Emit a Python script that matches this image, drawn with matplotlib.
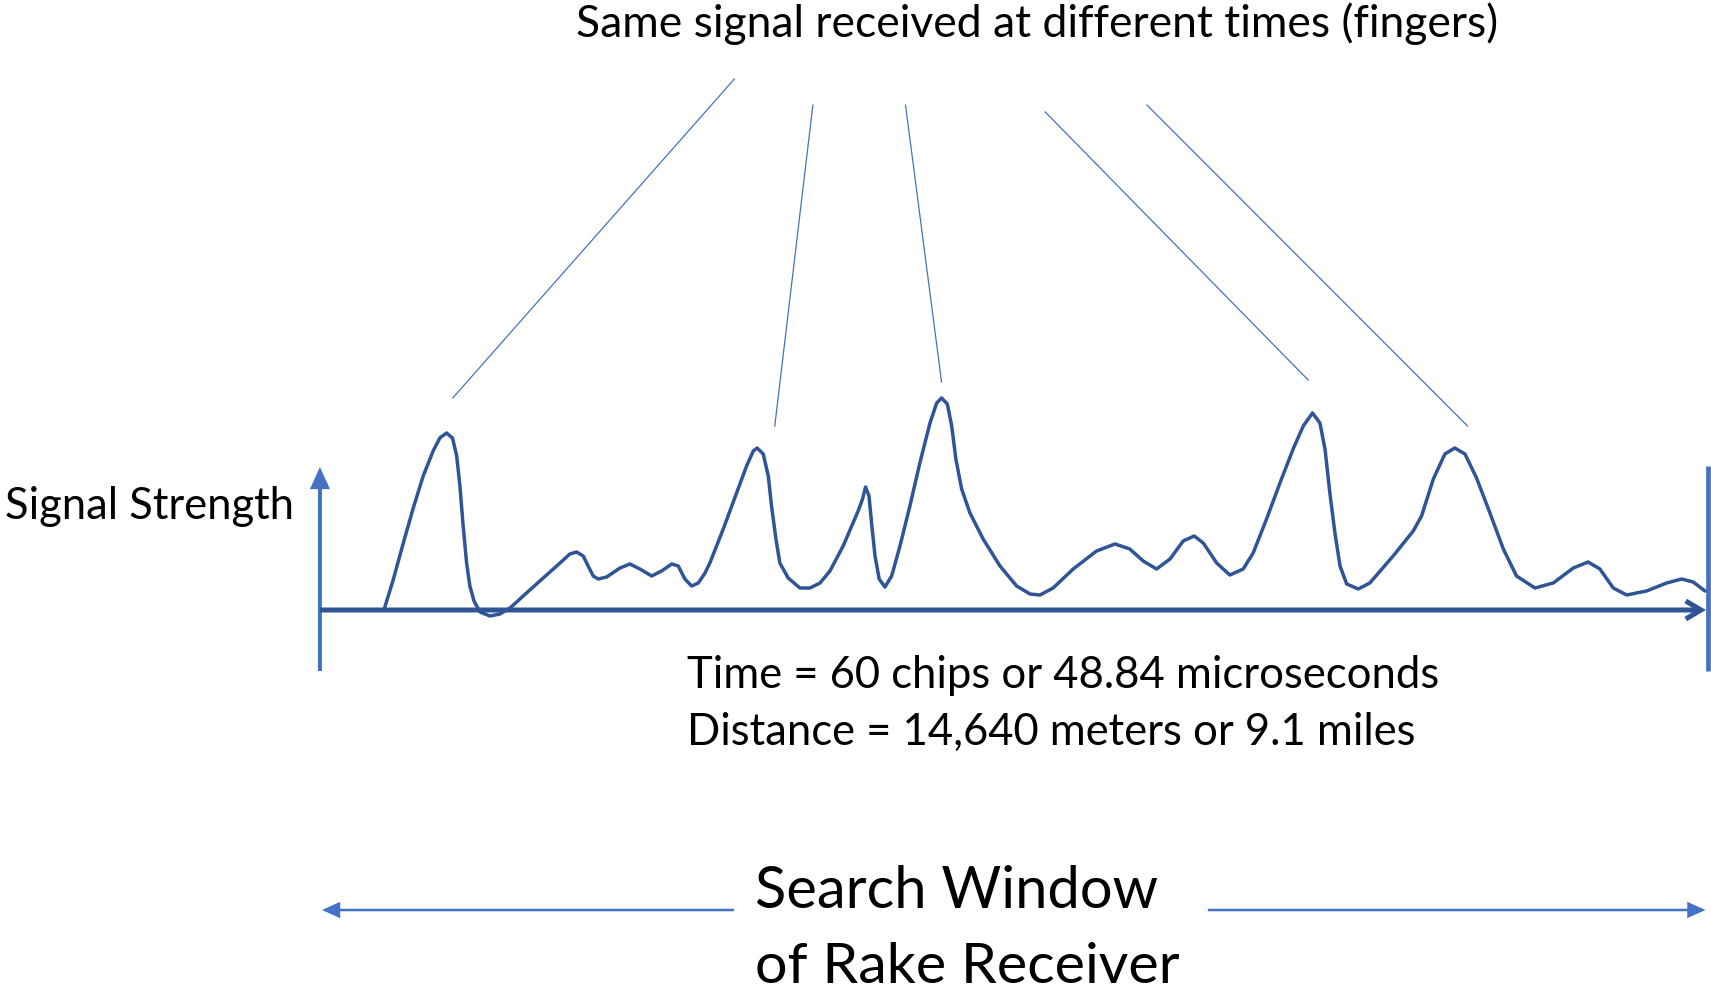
import matplotlib
matplotlib.use('Agg')
import matplotlib.pyplot as plt
from matplotlib.patches import FancyArrowPatch

# signal trace: time in chips, strength in arbitrary units
chips = [2.77, 3.17, 3.61, 4.04, 4.47, 4.90, 5.19, 5.48, 5.74, 5.92,
         6.06, 6.20, 6.35, 6.49, 6.67, 6.93, 7.36, 7.79, 8.23, 8.80,
         9.52, 10.25, 10.82, 11.11, 11.40, 11.61, 11.83, 12.05, 12.41, 12.99,
         13.42, 13.85, 14.36, 14.79, 15.23, 15.51, 15.80, 16.09, 16.38, 16.67,
         16.88, 17.46, 18.04, 18.47, 18.76, 18.93, 19.19, 19.41, 19.55, 19.74,
         19.91, 20.27, 20.78, 21.21, 21.65, 22.08, 22.65, 23.30, 23.49, 23.62,
         23.77, 23.88, 24.03, 24.21, 24.46, 24.75, 25.11, 25.54, 25.97, 26.41,
         26.70, 26.91, 27.16, 27.35, 27.53, 27.78, 28.14, 28.71, 29.44, 30.16,
         30.74, 31.17, 31.74, 32.61, 33.62, 34.42, 35.06, 35.64, 36.22, 36.80,
         37.37, 37.85, 38.24, 38.82, 39.39, 39.97, 40.40, 40.98, 41.56, 42.13,
         42.57, 42.97, 43.29, 43.51, 43.72, 43.94, 44.16, 44.45, 44.95, 45.45,
         46.46, 47.33, 47.69, 48.20, 48.70, 49.13, 49.57, 50.07, 50.65, 51.23,
         51.80, 52.60, 53.39, 54.26, 54.90, 55.41, 55.99, 56.57, 57.43, 58.30,
         58.95, 59.45, 59.96]
strength = [0.00, 0.30, 0.67, 1.02, 1.34, 1.59, 1.72, 1.77, 1.72, 1.54,
            1.24, 0.84, 0.47, 0.24, 0.09, -0.02, -0.06, -0.04, 0.02, 0.14,
            0.29, 0.44, 0.56, 0.58, 0.54, 0.44, 0.34, 0.31, 0.33, 0.42,
            0.46, 0.41, 0.34, 0.39, 0.46, 0.44, 0.31, 0.24, 0.27, 0.37,
            0.47, 0.81, 1.17, 1.44, 1.59, 1.62, 1.56, 1.34, 1.04, 0.71,
            0.47, 0.32, 0.22, 0.22, 0.27, 0.39, 0.64, 0.99, 1.11, 1.23,
            1.14, 0.87, 0.54, 0.31, 0.23, 0.34, 0.64, 1.04, 1.47, 1.87,
            2.07, 2.12, 2.06, 1.84, 1.51, 1.21, 0.97, 0.71, 0.44, 0.24,
            0.16, 0.15, 0.22, 0.41, 0.59, 0.66, 0.61, 0.49, 0.41, 0.51,
            0.69, 0.74, 0.67, 0.47, 0.35, 0.41, 0.57, 0.91, 1.27, 1.61,
            1.84, 1.97, 1.87, 1.61, 1.17, 0.77, 0.44, 0.26, 0.21, 0.27,
            0.54, 0.79, 0.94, 1.31, 1.56, 1.62, 1.56, 1.32, 0.97, 0.61,
            0.34, 0.22, 0.27, 0.42, 0.48, 0.41, 0.22, 0.15, 0.19, 0.27,
            0.31, 0.28, 0.19]

# "finger" pointer lines: (top x, top y, bottom x, bottom y)
fingers = [(17.94, 5.31, 5.75, 2.12),
           (21.34, 5.05, 19.69, 1.84),
           (25.35, 5.05, 26.91, 2.28),
           (31.40, 4.98, 42.78, 2.30),
           (35.80, 5.05, 49.68, 1.84)]

window_chips = 60

title = 'Same signal received at different times (fingers)'
ylabel = 'Signal Strength'
time_label = 'Time = 60 chips or 48.84 microseconds'
dist_label = 'Distance = 14,640 meters or 9.1 miles'
window_label = ['Search Window', 'of Rake Receiver']

DARK = '#2F5597'
BLUE = '#4472C4'
plt.rcParams['font.family'] = ['Lato', 'DejaVu Sans']

fig = plt.figure(figsize=(17.11, 9.91), dpi=100)
ax = fig.add_axes([0, 0, 1, 1])
ax.set_xlim(-13.85, 60.22)
ax.set_ylim(-3.81, 6.10)
ax.set_axis_off()


def arrow(x0, y0, x1, y1, style, color, lw):
    p = FancyArrowPatch((x0, y0), (x1, y1), arrowstyle=style,
                        mutation_scale=1, color=color, lw=lw,
                        shrinkA=0, shrinkB=0, clip_on=False,
                        joinstyle='miter', capstyle='butt')
    ax.add_patch(p)


# axes of the diagram
arrow(0, -0.61, 0, 1.43, '-|>,head_length=11,head_width=5', BLUE, 2.9)
arrow(0, 0, window_chips, 0, '->,head_length=11,head_width=6.5', DARK, 3.6)
ax.plot([60.07, 60.07], [-0.61, 1.44], color=BLUE, lw=3.4,
        solid_capstyle='butt')

# signal
ax.plot(chips, strength, color=DARK, lw=2.5, solid_joinstyle='round',
        solid_capstyle='round')

# finger lines
for x0, y0, x1, y1 in fingers:
    ax.plot([x0, x1], [y0, y1], color=BLUE, lw=0.9)

# search window arrows
arrow(17.92, -3.0, 0.09, -3.0, '-|>,head_length=10,head_width=4.5', BLUE, 1.8)
arrow(38.44, -3.0, 59.98, -3.0, '-|>,head_length=10,head_width=4.5', BLUE, 1.8)

# texts, sized so that their width matches the reference
renderer = fig.canvas.get_renderer()


def fit_text(x, y, s, width_px, ha='left'):
    t = ax.text(x, y, s, ha=ha, va='baseline', fontsize=20, color='black')
    w = t.get_window_extent(renderer).width
    t.set_fontsize(20 * width_px / w)
    return t


fit_text(31.03, 5.73, title, 925, ha='center')
fit_text(-13.62, 0.91, ylabel, 290)
fit_text(15.87, -0.78, time_label, 754)
fit_text(15.87, -1.35, dist_label, 731)
fit_text(18.83, -2.98, window_label[0], 404)
fit_text(18.83, -3.73, window_label[1], 426)

fig.savefig('out.png', dpi=100)
